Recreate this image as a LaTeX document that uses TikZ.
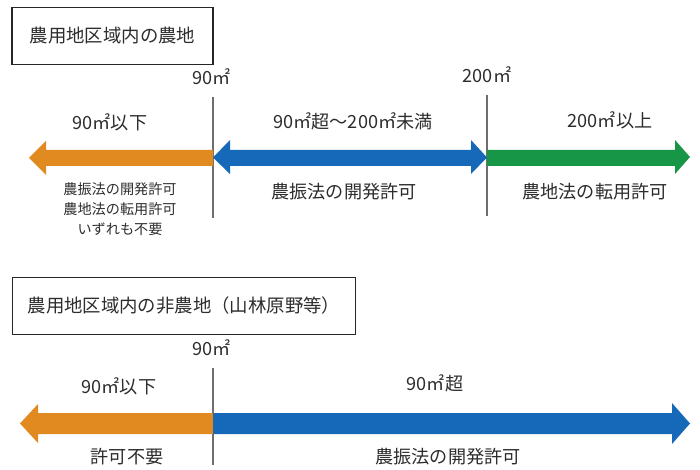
\documentclass[tikz,border=0pt]{standalone}
\usepackage{fontspec}
\setmainfont{Noto Sans CJK JP}
\definecolor{arrorange}{RGB}{224,138,32}
\definecolor{arrblue}{RGB}{22,104,184}
\definecolor{arrgreen}{RGB}{24,150,72}
\definecolor{txtgray}{RGB}{45,45,45}
\definecolor{linegray}{RGB}{110,110,110}
\tikzset{
  titlebox/.style={draw=black!85, line width=1.1pt, minimum height=43pt, inner sep=0pt, text=txtgray, font=\fontsize{13.8pt}{16pt}\selectfont},
  lbl/.style={text=txtgray, inner sep=0pt, font=\fontsize{13.6pt}{16pt}\selectfont},
  small/.style={text=txtgray, inner sep=0pt, align=center, font=\fontsize{10.6pt}{14.8pt}\selectfont},
  divider/.style={draw=linegray, line width=0.8pt},
}
\begin{document}
\begin{tikzpicture}[x=0.75pt,y=-0.75pt]
\useasboundingbox (0,0) rectangle (700,470);
\fill[white] (0,0) rectangle (700,470);

% ===== top section =====
\node[titlebox, minimum width=150.75pt] (t1) at (112.5,36) {農用地区域内の農地};

\coordinate (a1) at (213,97);
\coordinate (a2) at (213,218);
\coordinate (b1) at (487,95);
\coordinate (b2) at (487,216);
\draw[divider] (a1) -- (a2);
\draw[divider] (b1) -- (b2);
\node[lbl] (m90a) at (212,77) {90㎡};
\node[lbl] (m200) at (487,75) {200㎡};

% orange left arrow
\fill[arrorange] (213,150) -- (46,150) -- (46,141) -- (29,158) -- (46,175) -- (46,166) -- (213,166) -- cycle;
% blue double arrow
\fill[arrblue] (230,150) -- (471,150) -- (471,140) -- (487,157.5) -- (471,174) -- (471,166) -- (230,166) -- (230,174) -- (213,157.5) -- (230,140) -- cycle;
% green right arrow
\fill[arrgreen] (487,150) -- (675,150) -- (675,140) -- (690,157) -- (675,174) -- (675,166) -- (487,166) -- cycle;

\node[lbl] (l1) at (110,122) {90㎡以下};
\node[lbl] (l2) at (353,121) {90㎡超～200㎡未満};
\node[lbl] (l3) at (610,120) {200㎡以上};

\node[small] (s1) at (120,209) {農振法の開発許可\\農地法の転用許可\\いずれも不要};
\node[lbl] (s2) at (344,192) {農振法の開発許可};
\node[lbl] (s3) at (595,192) {農地法の転用許可};

% ===== bottom section =====
\node[titlebox, minimum width=257pt] (t2) at (184,306) {農用地区域内の非農地（山林原野等）};

\coordinate (c1) at (213,368);
\coordinate (c2) at (213,465);
\draw[divider] (c1) -- (c2);
\node[lbl] (m90b) at (212,348) {90㎡};

% orange left arrow
\fill[arrorange] (213,413) -- (38,413) -- (38,404) -- (20,423.5) -- (38,443) -- (38,434) -- (213,434) -- cycle;
% blue right arrow
\fill[arrblue] (213,413) -- (672,413) -- (672,403) -- (690,423.5) -- (672,444) -- (672,434) -- (213,434) -- cycle;

\node[lbl] (l4) at (119,386) {90㎡以下};
\node[lbl] (l5) at (435,383) {90㎡超};
\node[lbl] (s4) at (127,457) {許可不要};
\node[lbl] (s5) at (448,457) {農振法の開発許可};
\end{tikzpicture}
\end{document}
